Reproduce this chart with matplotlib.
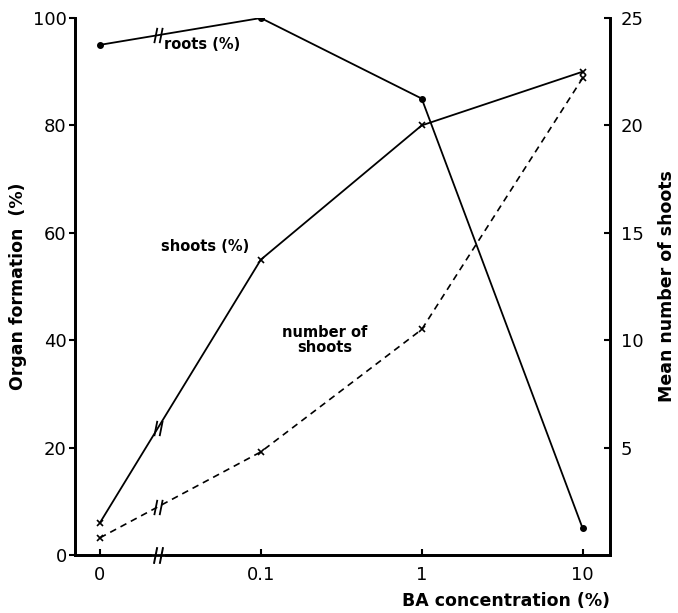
import matplotlib
matplotlib.use("Agg")
import numpy as np
import matplotlib.pyplot as plt
from matplotlib.path import Path

plt.rcParams['font.family'] = ['DejaVu Sans']

# data
ba_labels = ["0", "0.1", "1", "10"]
roots_pct = [95, 100, 85, 5]
shoots_pct = [6, 55, 80, 90]
n_shoots = [0.8, 4.8, 10.5, 22.2]

x = np.arange(len(ba_labels))
brk = 0.36  # position of the scale break between 0 and 0.1

# marker made of two slanted strokes: "//"
break_mark = Path(
    [(-0.55, -1), (-0.15, 1), (0.15, -1), (0.55, 1)],
    [Path.MOVETO, Path.LINETO, Path.MOVETO, Path.LINETO],
)

fig = plt.figure(figsize=(6.78, 6.13), dpi=100)
ax = fig.add_axes([0.1106, 0.0946, 0.789, 0.876])
ax2 = ax.twinx()

ax.plot(x, roots_pct, color="black", lw=1.3, marker="o", ms=4)
ax.plot(x, shoots_pct, color="black", lw=1.3, marker="x", ms=4, mew=1.2)
ax2.plot(x, n_shoots, color="black", lw=1.2, ls=(0, (4, 3)), marker="x", ms=4, mew=1.2)

# break marks on the lines (interpolated on the first segment)
for axis, ys in [(ax, roots_pct), (ax, shoots_pct), (ax2, n_shoots)]:
    yb = np.interp(brk, x[:2], ys[:2])
    axis.plot(brk, yb, marker=break_mark, ms=11, mew=1.3, color="black", ls="none")
# break on the x axis
ax.plot(brk, 0, marker="s", ms=9, color="white", mec="white", clip_on=False, zorder=5)
ax.plot(brk, 0, marker=break_mark, ms=12, mew=1.4, color="black", clip_on=False, zorder=6)

ax.set_xlim(-0.155, 3.17)
ax.set_ylim(0, 100)
ax2.set_ylim(0, 25)

ax.set_xticks(x)
ax.set_xticklabels(ba_labels)
ax.set_yticks([0, 20, 40, 60, 80, 100])
ax2.set_yticks([5, 10, 15, 20, 25])

for a in (ax, ax2):
    a.spines["top"].set_visible(False)
    for s in ("left", "right", "bottom"):
        a.spines[s].set_linewidth(2)
    a.tick_params(labelsize=13, width=1.5, length=4)
ax.tick_params(axis="x", direction="in", pad=8)
ax.tick_params(axis="y", direction="out", pad=2)
ax2.tick_params(axis="y", direction="in", pad=8)

ax.text(0.4, 95, "roots (%)", fontsize=10.5, fontweight="bold", va="center", ha="left")
ax.text(0.93, 57.5, "shoots (%)", fontsize=10.5, fontweight="bold", va="center", ha="right")
ax.text(1.4, 40, "number of\nshoots", fontsize=10.5, fontweight="bold", va="center",
        ha="center", linespacing=1.0)

ax.set_ylabel("Organ formation  (%)", fontsize=12.5, fontweight="bold", labelpad=4)
ax2.set_ylabel("Mean number of shoots", fontsize=12.5, fontweight="bold", labelpad=10)
ax.set_xlabel("BA concentration (%)", fontsize=12.5, fontweight="bold", loc="right", labelpad=6)

fig.savefig("out.png", dpi=100)
